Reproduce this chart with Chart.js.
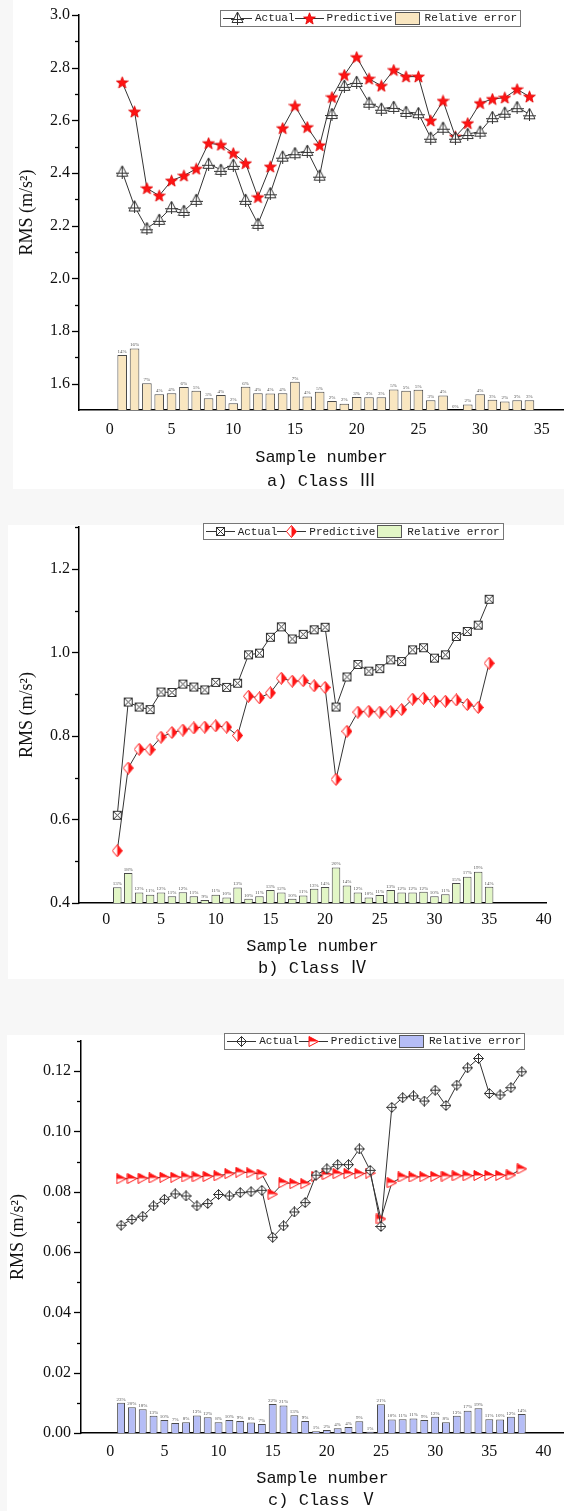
<!DOCTYPE html>
<html>
<head>
<meta charset="utf-8">
<script src="https://cdn.jsdelivr.net/npm/chart.js@4.4.1/dist/chart.umd.min.js"></script>
<style>
  html, body { margin: 0; padding: 0; background: #f7f7f7; overflow: hidden; }
  #wrap { position: relative; width: 564px; height: 1511px; background: #f7f7f7; }
  .sheet { position: absolute; right: 0; background: #fff; }
  canvas { position: absolute; left: 0; }
</style>
</head>
<body>
<div id="wrap">
  <div class="sheet" style="left:13px;top:0;height:489px"></div>
  <div class="sheet" style="left:8px;top:525px;height:454px"></div>
  <div class="sheet" style="left:7px;top:1035px;height:476px"></div>
  <canvas id="panelA" width="564" height="500" style="top:0"></canvas>
  <canvas id="panelB" width="564" height="510" style="top:500px"></canvas>
  <canvas id="panelC" width="564" height="501" style="top:1010px"></canvas>
</div>
<script>
// ---- a) Class III ----
const samplesA = [1,2,3,4,5,6,7,8,9,10,11,12,13,14,15,16,17,18,19,20,21,22,23,24,25,26,27,28,29,30,31,32,33,34];
const actualA = [2.405, 2.273, 2.19, 2.222, 2.27, 2.256, 2.298, 2.435, 2.412, 2.431, 2.298, 2.207, 2.323, 2.462, 2.475, 2.484, 2.39,
  2.624, 2.731, 2.746, 2.667, 2.644, 2.651, 2.632, 2.627, 2.534, 2.572, 2.534, 2.548, 2.557, 2.612, 2.629, 2.65, 2.623];
const predA = [2.744, 2.633, 2.342, 2.314, 2.371, 2.39, 2.416, 2.513, 2.507, 2.475, 2.437, 2.308, 2.424, 2.57, 2.655, 2.574, 2.505,
  2.688, 2.772, 2.84, 2.758, 2.731, 2.791, 2.766, 2.766, 2.599, 2.674, 2.538, 2.589, 2.665, 2.681, 2.686, 2.718, 2.69];
const errBarA = [1.709, 1.734, 1.602, 1.56, 1.564, 1.587, 1.573, 1.545, 1.557, 1.526, 1.588, 1.564, 1.563, 1.564, 1.607, 1.551, 1.569,
  1.534, 1.524, 1.549, 1.548, 1.548, 1.578, 1.573, 1.577, 1.537, 1.555, 1.5, 1.521, 1.56, 1.539, 1.532, 1.537, 1.537];
const errLabelA = ['14%','16%','7%','4%','4%','6%','5%','3%','4%','2%','6%','4%','4%','4%','7%','4%','5%',
  '2%','2%','3%','3%','3%','5%','5%','5%','3%','4%','0%','2%','4%','3%','2%','3%','3%'];
const xTicksA = [0, 5, 10, 15, 20, 25, 30, 35];
const yTicksA = [1.6, 1.8, 2.0, 2.2, 2.4, 2.6, 2.8, 3.0];
const yMinorA = [1.7, 1.9, 2.1, 2.3, 2.5, 2.7, 2.9];

// ---- b) Class IV ----
const samplesB = [1,2,3,4,5,6,7,8,9,10,11,12,13,14,15,16,17,18,19,20,21,22,23,24,25,26,27,28,29,30,31,32,33,34,35];
const actualB = [0.61, 0.881, 0.869, 0.863, 0.905, 0.904, 0.924, 0.917, 0.91, 0.928, 0.916, 0.926, 0.994, 0.998, 1.036, 1.061, 1.032, 1.043,
  1.054, 1.06, 0.869, 0.941, 0.971, 0.955, 0.961, 0.982, 0.978, 1.006, 1.011, 0.986, 0.994, 1.038, 1.05, 1.065, 1.127];
const predB = [0.525, 0.723, 0.768, 0.767, 0.797, 0.808, 0.814, 0.819, 0.821, 0.824, 0.821, 0.801, 0.895, 0.891, 0.903, 0.938, 0.931, 0.932,
  0.92, 0.916, 0.696, 0.811, 0.857, 0.859, 0.857, 0.858, 0.863, 0.888, 0.89, 0.883, 0.883, 0.886, 0.875, 0.868, 0.974];
const errBarB = [0.4375, 0.472, 0.425, 0.42, 0.425, 0.416, 0.426, 0.416, 0.407, 0.42, 0.413, 0.437, 0.41, 0.416, 0.431, 0.425, 0.41, 0.418,
  0.434, 0.438, 0.485, 0.442, 0.425, 0.413, 0.419, 0.431, 0.425, 0.425, 0.427, 0.416, 0.421, 0.448, 0.463, 0.475, 0.439];
const errLabelB = ['13%','18%','12%','11%','12%','11%','12%','11%','9%','11%','10%','13%','10%','11%','13%','12%','10%','11%',
  '13%','14%','20%','14%','12%','10%','11%','13%','12%','12%','12%','10%','11%','15%','17%','19%','14%'];
const xTicksB = [0, 5, 10, 15, 20, 25, 30, 35, 40];
const yTicksB = [0.4, 0.6, 0.8, 1.0, 1.2];
const yMinorB = [0.5, 0.7, 0.9, 1.1, 1.3];

// ---- c) Class V ----
const samplesC = [1,2,3,4,5,6,7,8,9,10,11,12,13,14,15,16,17,18,19,20,21,22,23,24,25,26,27,28,29,30,31,32,33,34,35,36,37,38];
const actualC = [0.0689, 0.0708, 0.0719, 0.0753, 0.0775, 0.0793, 0.0786, 0.0753, 0.0761, 0.0791, 0.0786, 0.0797, 0.08, 0.0805,
  0.0649, 0.0687, 0.0733, 0.0764, 0.0855, 0.0876, 0.089, 0.089, 0.0942, 0.0871, 0.0685, 0.108, 0.1112, 0.1118, 0.1101, 0.1137,
  0.1086, 0.1154, 0.1211, 0.1242, 0.1126, 0.1121, 0.1145, 0.1198];
const predC = [0.0843, 0.0844, 0.0845, 0.0846, 0.0848, 0.0848, 0.0849, 0.085, 0.0851, 0.0853, 0.086, 0.0865, 0.0863, 0.0858,
  0.0792, 0.083, 0.0827, 0.0827, 0.0851, 0.0857, 0.086, 0.086, 0.086, 0.0862, 0.0710, 0.083, 0.0849, 0.0849, 0.085, 0.0851,
  0.0852, 0.0853, 0.0853, 0.0854, 0.0854, 0.0854, 0.0856, 0.0876];
const errBarC = [0.0100, 0.0085, 0.0079, 0.0057, 0.0043, 0.0033, 0.0036, 0.0058, 0.0052, 0.0036, 0.0043, 0.0040, 0.0035, 0.0030,
  0.0096, 0.0091, 0.0059, 0.0040, 0.0006, 0.0010, 0.0016, 0.0020, 0.0039, 0.0004, 0.0095, 0.0045, 0.0046, 0.0048, 0.0043, 0.0054,
  0.0036, 0.0057, 0.0074, 0.0082, 0.0046, 0.0045, 0.0054, 0.0063];
const errLabelC = ['23%','20%','18%','13%','10%','7%','8%','13%','12%','8%','10%','9%','8%','7%','22%','21%','13%','9%','1%','2%',
  '4%','4%','9%','1%','21%','10%','11%','11%','9%','12%','8%','13%','17%','19%','11%','10%','12%','14%'];
const xTicksC = [0, 5, 10, 15, 20, 25, 30, 35, 40];
const yTicksC = [0.00, 0.02, 0.04, 0.06, 0.08, 0.10, 0.12];
const yMinorC = [0.01, 0.03, 0.05, 0.07, 0.09, 0.11, 0.13];

// small canvases used as point styles
function mk(w, h, draw) {
  const c = document.createElement('canvas');
  c.width = w; c.height = h;
  draw(c.getContext('2d'), w, h);
  return c;
}
const RED = '#ff1414';
const markTriCross = mk(13, 14, g => {
  g.strokeStyle = '#333'; g.lineWidth = 1; g.fillStyle = '#fff';
  g.beginPath(); g.moveTo(6.5, 1); g.lineTo(12, 11.5); g.lineTo(1, 11.5); g.closePath(); g.fill(); g.stroke();
  g.beginPath(); g.moveTo(6.5, 1); g.lineTo(6.5, 14); g.moveTo(0, 8.5); g.lineTo(13, 8.5); g.stroke();
});
const markStar = mk(13, 13, g => {
  g.beginPath();
  for (let k = 0; k < 10; k++) {
    const r = k % 2 ? 2.6 : 6.2, a = -Math.PI / 2 + k * Math.PI / 5;
    g.lineTo(6.5 + r * Math.cos(a), 7 + r * Math.sin(a));
  }
  g.closePath(); g.fillStyle = RED; g.fill(); g.strokeStyle = '#e00000'; g.lineWidth = 0.8; g.stroke();
});
const markBoxX = mk(11, 11, g => {
  g.strokeStyle = '#333'; g.lineWidth = 1; g.fillStyle = '#fff';
  g.fillRect(1.5, 1.5, 8, 8); g.strokeRect(1.5, 1.5, 8, 8);
  g.beginPath(); g.moveTo(1.5, 1.5); g.lineTo(9.5, 9.5); g.moveTo(9.5, 1.5); g.lineTo(1.5, 9.5); g.stroke();
});
const markHalfDiamond = mk(11, 13, g => {
  g.fillStyle = '#fff';
  g.beginPath(); g.moveTo(5.5, 0.5); g.lineTo(10.5, 6.5); g.lineTo(5.5, 12.5); g.lineTo(0.5, 6.5); g.closePath(); g.fill();
  g.fillStyle = RED;
  g.beginPath(); g.moveTo(5.5, 0.5); g.lineTo(10.5, 6.5); g.lineTo(5.5, 12.5); g.closePath(); g.fill();
  g.strokeStyle = RED; g.lineWidth = 1;
  g.beginPath(); g.moveTo(5.5, 0.5); g.lineTo(10.5, 6.5); g.lineTo(5.5, 12.5); g.lineTo(0.5, 6.5); g.closePath(); g.stroke();
});
const markDiamondPlus = mk(11, 11, g => {
  g.strokeStyle = '#333'; g.lineWidth = 1; g.fillStyle = '#fff';
  g.beginPath(); g.moveTo(5.5, 0.5); g.lineTo(10.5, 5.5); g.lineTo(5.5, 10.5); g.lineTo(0.5, 5.5); g.closePath(); g.fill(); g.stroke();
  g.beginPath(); g.moveTo(5.5, 0.5); g.lineTo(5.5, 10.5); g.moveTo(0.5, 5.5); g.lineTo(10.5, 5.5); g.stroke();
});
const markHalfTri = mk(11, 11, g => {
  g.fillStyle = '#fff';
  g.beginPath(); g.moveTo(1, 0.5); g.lineTo(10.5, 5.5); g.lineTo(1, 10.5); g.closePath(); g.fill();
  g.fillStyle = RED;
  g.beginPath(); g.moveTo(1, 0.5); g.lineTo(10.5, 5.5); g.lineTo(1, 5.5); g.closePath(); g.fill();
  g.strokeStyle = RED; g.lineWidth = 1;
  g.beginPath(); g.moveTo(1, 0.5); g.lineTo(10.5, 5.5); g.lineTo(1, 10.5); g.closePath(); g.stroke();
});

function lineIcon(marker) {
  return mk(29, 14, (g, w, h) => {
    g.strokeStyle = '#333'; g.lineWidth = 1;
    g.beginPath(); g.moveTo(0, 7.5); g.lineTo(w, 7.5); g.stroke();
    g.drawImage(marker, Math.round((w - marker.width) / 2), Math.round((h - marker.height) / 2));
  });
}
function boxIcon(fill) {
  return mk(29, 14, g => {
    g.fillStyle = fill; g.fillRect(2.5, 1.5, 24, 12);
    g.strokeStyle = '#555'; g.lineWidth = 1; g.strokeRect(2.5, 1.5, 24, 12);
  });
}

// outward major/minor ticks on the left axis
const axisTicks = {
  id: 'axisTicks',
  afterDraw(chart, args, opts) {
    const {ctx, chartArea, scales: {y}} = chart;
    ctx.save();
    ctx.strokeStyle = '#000';
    ctx.lineWidth = 1.3;
    const mark = (v, len) => {
      const py = Math.round(y.getPixelForValue(v)) + 0.5;
      ctx.beginPath(); ctx.moveTo(chartArea.left, py); ctx.lineTo(chartArea.left - len, py); ctx.stroke();
    };
    opts.major.forEach(v => mark(v, 7));
    opts.minor.forEach(v => mark(v, 4));
    ctx.restore();
  }
};

// tiny percentage text on top of each bar
const barLabels = {
  id: 'barLabels',
  afterDatasetsDraw(chart, args, opts) {
    const {ctx} = chart;
    const meta = chart.getDatasetMeta(2);
    ctx.save();
    ctx.font = '5px "Liberation Serif"';
    ctx.fillStyle = '#555';
    ctx.textAlign = 'center';
    ctx.textBaseline = 'bottom';
    meta.data.forEach((bar, i) => ctx.fillText(opts.labels[i], bar.x, bar.y - 1));
    ctx.restore();
  }
};

// boxed legend sitting on the top of the plot
const boxLegend = {
  id: 'boxLegend',
  afterDraw(chart, args, opts) {
    const {ctx, chartArea} = chart;
    const items = chart.data.datasets.map((ds, i) => ({text: ds.label, icon: opts.icons[i]}));
    ctx.save();
    ctx.font = '11px "Liberation Mono"';
    let w = 0;
    items.forEach(it => { w += it.icon.width + 3 + ctx.measureText(it.text).width; });
    const right = chartArea.right + opts.dx;
    const cy = chartArea.top + opts.dy;
    let x = right - 3 - w;
    ctx.fillStyle = '#fff';
    ctx.fillRect(x - 3, cy - 8, w + 6, 16);
    ctx.strokeStyle = '#777';
    ctx.lineWidth = 1;
    ctx.strokeRect(Math.round(x - 3) + 0.5, Math.round(cy - 8) + 0.5, Math.round(w + 6), 16);
    ctx.textBaseline = 'middle';
    items.forEach(it => {
      ctx.drawImage(it.icon, Math.round(x), Math.round(cy - it.icon.height / 2));
      x += it.icon.width + 3;
      ctx.fillStyle = '#222';
      ctx.fillText(it.text, x, cy + 0.5);
      x += ctx.measureText(it.text).width;
    });
    ctx.restore();
  }
};

const serif = '"Liberation Serif", "DejaVu Serif", serif';
const mono = '"Liberation Mono", "Noto Sans CJK SC", monospace';

function makePanel(id, p) {
  const pts = vals => p.samples.map((s, i) => ({x: s, y: vals[i]}));
  new Chart(document.getElementById(id), {
    type: 'line',
    data: {
      datasets: [
        { label: 'Actual', data: pts(p.actual), borderColor: '#333', borderWidth: 1,
          pointStyle: p.actualMark, pointRadius: 6, order: 1 },
        { label: 'Predictive', data: pts(p.pred), borderColor: '#333', borderWidth: 1,
          pointStyle: p.predMark, pointRadius: 6, order: 2 },
        { type: 'bar', label: 'Relative error', data: pts(p.err), backgroundColor: p.barColor,
          borderColor: '#4a4a4a', borderWidth: 1, barPercentage: p.barPct, categoryPercentage: 1, order: 3 }
      ]
    },
    options: {
      responsive: false,
      animation: false,
      devicePixelRatio: 1,
      layout: { padding: p.pad, autoPadding: false },
      plugins: {
        legend: { display: false },
        tooltip: { enabled: false },
        title: {
          display: true, position: 'bottom', fullSize: false, text: p.caption, color: '#111',
          font: { family: mono, size: 17, weight: 'normal' }, padding: { top: p.capPad, bottom: 0 }
        },
        axisTicks: { major: p.yTicks, minor: p.yMinor },
        barLabels: { labels: p.errLabels },
        boxLegend: { icons: [lineIcon(p.actualMark), lineIcon(p.predMark), boxIcon(p.barColor)], dx: p.legDx, dy: p.legDy }
      },
      scales: {
        x: {
          type: 'linear', min: p.xMin, max: p.xMax, offset: false,
          afterBuildTicks: s => { s.ticks = p.xTicks.map(v => ({value: v})); },
          afterFit: s => { s.height = p.xHeight; s.paddingLeft = 0; s.paddingRight = 0; },
          grid: { display: false, drawTicks: false },
          border: { display: true, color: '#000', width: 1.5 },
          ticks: { padding: p.xTickPad, color: '#111', font: { family: serif, size: 16 }, maxRotation: 0 },
          title: { display: true, text: 'Sample number', color: '#111', font: { family: mono, size: 17 }, padding: 0 }
        },
        y: {
          type: 'linear', min: p.yMin, max: p.yMax, beginAtZero: false,
          afterBuildTicks: s => { s.ticks = p.yTicks.map(v => ({value: v})); },
          afterFit: s => { s.width = p.yWidth; },
          grid: { display: false, drawTicks: true, tickLength: 7 },
          border: { display: true, color: '#000', width: 1.5 },
          ticks: { padding: p.yTickPad, color: '#111', font: { family: serif, size: 16 }, callback: v => v.toFixed(p.dec) },
          title: { display: true, text: 'RMS (m/s²)', color: '#111', font: { family: serif, size: 18 },
            padding: { top: p.yTitlePad, bottom: 0 } }
        }
      }
    },
    plugins: [axisTicks, barLabels, boxLegend]
  });
}

makePanel('panelA', {
  samples: samplesA, actual: actualA, pred: predA, err: errBarA, errLabels: errLabelA,
  actualMark: markTriCross, predMark: markStar, barColor: '#f9e6c0', barPct: 0.78,
  caption: 'a) Class Ⅲ', xTicks: xTicksA, yTicks: yTicksA, yMinor: yMinorA, dec: 1,
  xMin: -2.5, xMax: 36.8, yMin: 1.5, yMax: 3.0,
  pad: { top: 15, left: 0, right: 0, bottom: 8.8 }, xHeight: 57.5, xTickPad: 9.7, capPad: 3.3,
  yWidth: 79, yTickPad: 2, yTitlePad: 16.2, legDx: -44, legDy: 2.6
});

makePanel('panelB', {
  samples: samplesB, actual: actualB, pred: predB, err: errBarB, errLabels: errLabelB,
  actualMark: markBoxX, predMark: markHalfDiamond, barColor: '#e2f6c6', barPct: 0.78,
  caption: 'b) Class Ⅳ', xTicks: xTicksB, yTicks: yTicksB, yMinor: yMinorB, dec: 1,
  xMin: -2.5, xMax: 40.2, yMin: 0.4, yMax: 1.3,
  pad: { top: 27, left: 0, right: 18, bottom: 31.5 }, xHeight: 53.9, xTickPad: 7.4, capPad: 1.2,
  yWidth: 79, yTickPad: 2, yTitlePad: 16.7, legDx: -43.3, legDy: 4.2
});

makePanel('panelC', {
  samples: samplesC, actual: actualC, pred: predC, err: errBarC, errLabels: errLabelC,
  actualMark: markDiamondPlus, predMark: markHalfTri, barColor: '#b5bdf6', barPct: 0.73,
  caption: 'c) Class Ⅴ', xTicks: xTicksC, yTicks: yTicksC, yMinor: yMinorC, dec: 2,
  xMin: -2.7, xMax: 41.9, yMin: 0, yMax: 0.13,
  pad: { top: 31, left: 0, right: 0, bottom: 0.8 }, xHeight: 55.5, xTickPad: 9.1, capPad: 1.3,
  yWidth: 81, yTickPad: 3, yTitlePad: 7.7, legDx: -39.7, legDy: 0
});
</script>
</body>
</html>
